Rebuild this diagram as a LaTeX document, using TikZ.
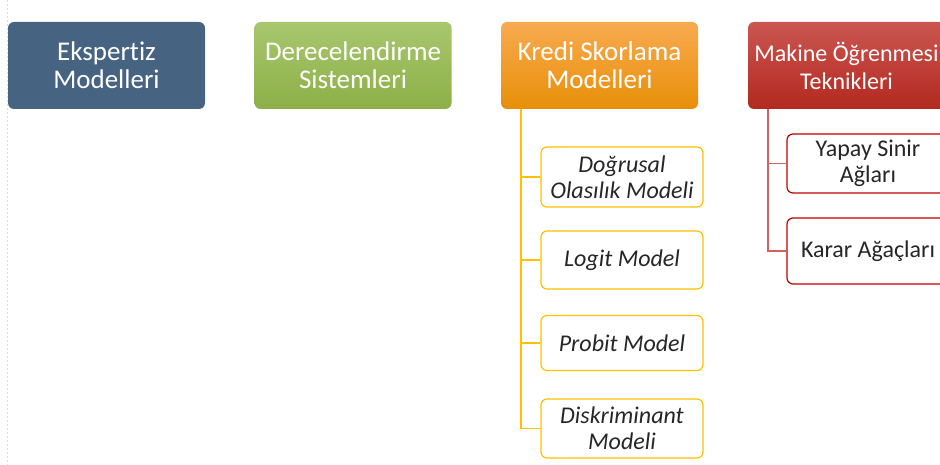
\documentclass[tikz,border=0pt]{standalone}
\usepackage{fontspec}
\setmainfont[Ligatures={NoCommon}]{Carlito}
\definecolor{slateBlue}{HTML}{476382}
\definecolor{greenTop}{HTML}{A8C76E}
\definecolor{greenBot}{HTML}{8DAF47}
\definecolor{orangeTop}{HTML}{F8AA50}
\definecolor{orangeBot}{HTML}{E88F08}
\definecolor{redTop}{HTML}{CB5651}
\definecolor{redBot}{HTML}{B3291F}
\definecolor{goldLine}{HTML}{FFC000}
\definecolor{redLine}{HTML}{CC6461}
\definecolor{redEdge}{HTML}{C00000}
\definecolor{textGray}{HTML}{262626}
\begin{document}
\begin{tikzpicture}[x=1pt, y=-1pt,
    headStyle/.style={rounded corners=6pt, minimum width=197pt, minimum height=87pt, inner xsep=0pt, align=center, text=white, font=\fontsize{27}{28}\selectfont},
    childStyle/.style={draw, rounded corners=6pt, line width=1.2pt, fill=white, minimum width=162pt, align=center, text=textGray, font=\fontsize{24}{26}\selectfont\itshape},
    redChild/.style={childStyle, draw=redEdge, font=\fontsize{24}{26}\selectfont},
    goldChild/.style={childStyle, draw=goldLine}]
                    \useasboundingbox (0,0) rectangle (940,465);
                    \clip (0,0) rectangle (940,465);
                    \draw[gray!25, dashed, dash pattern=on 2pt off 2pt] (7,0) -- (7,465);

                    \node[headStyle, fill=slateBlue](1) at (106.5, 65.5) {Ekspertiz\\Modelleri};
                    \node[headStyle, top color=greenTop, bottom color=greenBot](2) at (353, 65.5) {Derecelendirme\\Sistemleri};
                    \node[headStyle, top color=orangeTop, bottom color=orangeBot](3) at (599.5, 65.5) {Kredi Skorlama\\Modelleri};
                    \node[headStyle, top color=redTop, bottom color=redBot, font=\fontsize{24}{28}\selectfont](4) at (846.5, 65.5) {Makine Öğrenmesi\\Teknikleri};

                    \node[goldChild, minimum height=60pt](31) at (622, 177) {Doğrusal\\Olasılık Modeli};
                    \node[goldChild, minimum height=58pt](32) at (622, 260) {Logit Model};
                    \node[goldChild, minimum height=55pt](33) at (622, 343) {Probit Model};
                    \node[goldChild, minimum height=59pt](34) at (622, 428.5) {Diskriminant\\Modeli};

                    \node[redChild, minimum height=59pt](41) at (868, 163.5) {Yapay Sinir\\Ağları};
                    \node[redChild, minimum height=66pt](42) at (868, 251) {Karar Ağaçları};

                    \coordinate (3s) at (521, 109);
                    \coordinate (4s) at (768, 109);

                    \draw[goldLine, line width=1.5pt] (3s) |- (31.west);
                    \draw[goldLine, line width=1.5pt] (3s) |- (32.west);
                    \draw[goldLine, line width=1.5pt] (3s) |- (33.west);
                    \draw[goldLine, line width=1.5pt] (3s) |- (34.west);
                    \draw[redLine, line width=1.5pt] (4s) |- (41.west);
                    \draw[redLine, line width=1.5pt] (4s) |- (42.west);
                \end{tikzpicture}
\end{document}
